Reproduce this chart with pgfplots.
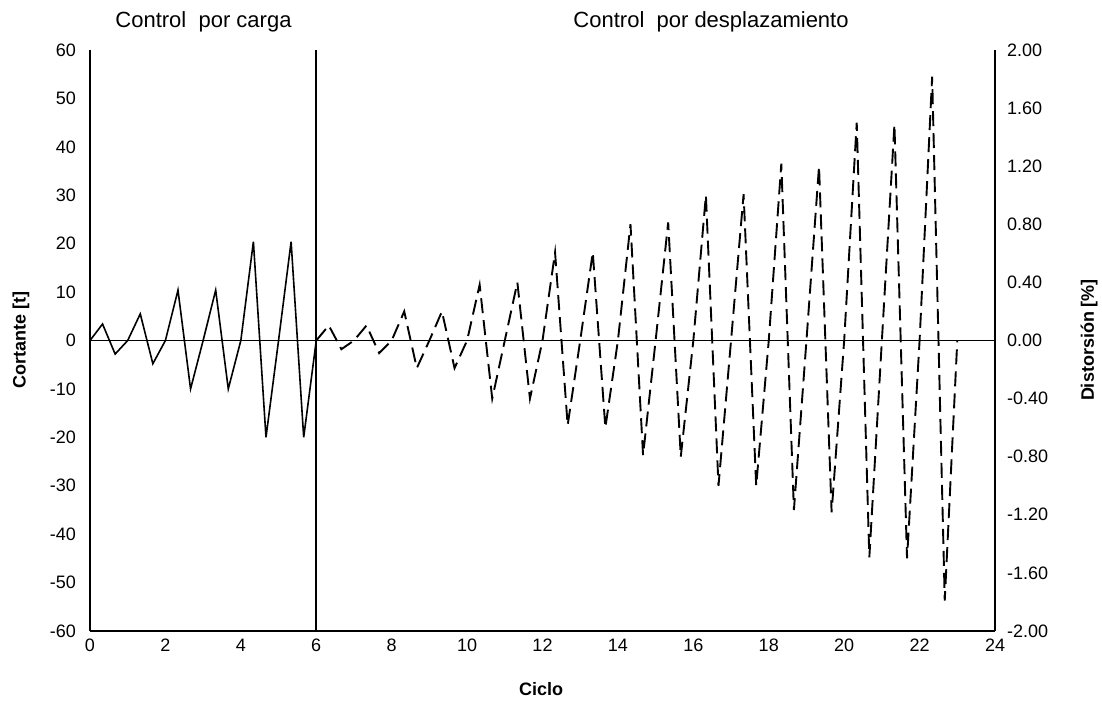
\documentclass[border=0pt]{standalone}
\usepackage{fontspec}
\setmainfont{Liberation Sans}
\usepackage{pgfplots}
\pgfplotsset{compat=1.18}
\begin{document}
\begin{tikzpicture}[x=1pt,y=1pt]
\path[use as bounding box] (0,0) rectangle (1102,707);
\begin{axis}[
  scale only axis, width=905pt, height=581pt,
  at={(90pt,76pt)}, anchor=south west,
  xmin=0, xmax=24, ymin=-60, ymax=60,
  xtick={0,2,...,24}, ytick={-60,-50,...,60},
  xticklabels={0,2,4,6,8,10,12,14,16,18,20,22,24},
  yticklabels={-60,-50,-40,-30,-20,-10,0,10,20,30,40,50,60},
  major tick length=0pt,
  axis y line*=left, axis x line*=bottom,
  axis line style={line width=1.8pt},
  tick label style={font=\fontsize{18}{20}\selectfont, inner sep=0pt},
  yticklabel style={xshift=-14pt},
  xticklabel style={yshift=-8pt},
  clip=false,
]
\addplot[black, line width=1.6pt, line join=miter] coordinates {
(0,0)(0.333,3.4)(0.667,-2.8)(1,0)(1.333,5.5)(1.667,-4.8)(2,0)(2.333,10.4)(2.667,-10)(3,0)(3.333,10.4)(3.667,-10)(4,0)(4.333,20.4)(4.667,-20)(5,0)(5.333,20.4)(5.667,-20)(6,0)};
\addplot[black, line width=1.9pt, dash pattern=on 15pt off 7pt] coordinates {
(6,0)(6.333,3.1)(6.667,-1.8)(7,0)(7.333,3.1)(7.667,-2.6)(8,0)(8.333,6.0)(8.667,-5.7)(9,0)(9.333,6.0)(9.667,-5.7)(10,0)(10.333,11.5)(10.667,-12)(11,0)(11.333,12)(11.667,-12)(12,0)(12.333,18.2)(12.667,-17.5)(13,0)(13.333,18.2)(13.667,-18)(14,0)(14.333,24)(14.667,-23.7)(15,0)(15.333,24.4)(15.667,-24)(16,0)(16.333,30)(16.667,-30)(17,0)(17.333,30.2)(17.667,-30)(18,0)(18.333,36.5)(18.667,-35)(19,0)(19.333,36)(19.667,-35.5)(20,0)(20.333,45)(20.667,-44.8)(21,0)(21.333,44.6)(21.667,-45)(22,0)(22.333,54.5)(22.667,-53.7)(23,0)};
\addplot[black, line width=1.6pt] coordinates {(0,0)(24,0)};
\addplot[black, line width=1.6pt] coordinates {(6,-60)(6,60)};
\node[font=\fontsize{22}{24}\selectfont] at (axis cs:3.01,65.8) {Control\ \ por carga};
\node[font=\fontsize{22}{24}\selectfont] at (axis cs:16.47,65.8) {Control\ \ por desplazamiento};
\end{axis}
\begin{axis}[
  scale only axis, width=905pt, height=581pt,
  at={(90pt,76pt)}, anchor=south west,
  xmin=0, xmax=24, ymin=-2, ymax=2,
  axis x line=none,
  axis y line*=right,
  axis line style={line width=1.8pt},
  ytick={-2,-1.6,...,2.01},
  yticklabels={-2.00,-1.60,-1.20,-0.80,-0.40,0.00,0.40,0.80,1.20,1.60,2.00},
  major tick length=0pt,
  tick label style={font=\fontsize{18}{20}\selectfont, inner sep=0pt},
  yticklabel style={xshift=12pt, anchor=west},
]
\end{axis}
\node[font=\fontsize{18}{20}\selectfont\bfseries, rotate=90] at (21,367) {Cortante [t]};
\node[font=\fontsize{18}{20}\selectfont\bfseries, rotate=90] at (1089,367) {Distorsión [\%]};
\node[font=\fontsize{18}{20}\selectfont\bfseries] at (541,18) {Ciclo};
\end{tikzpicture}
\end{document}
